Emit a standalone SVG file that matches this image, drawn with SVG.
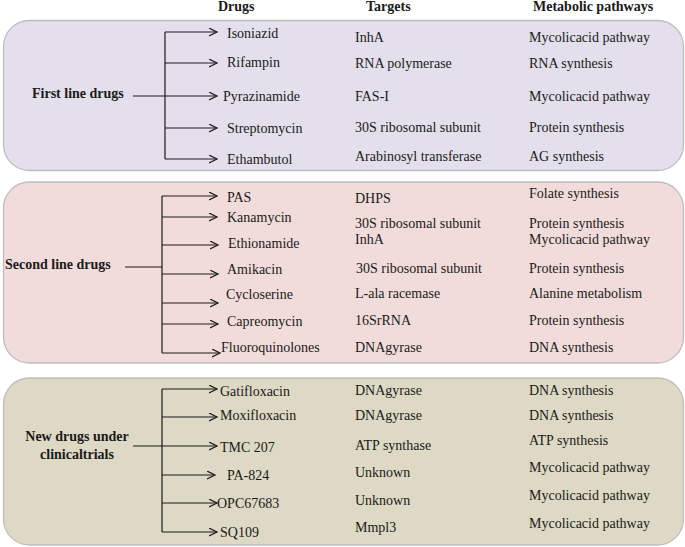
<svg xmlns="http://www.w3.org/2000/svg" width="685" height="547" viewBox="0 0 685 547">
<defs>
<marker id="arr" markerWidth="10" markerHeight="10" refX="8" refY="4" orient="auto" markerUnits="userSpaceOnUse">
<path d="M0,0 L8,4 L0,8" fill="none" stroke="#1a1a1a" stroke-width="1.2"/>
</marker>
<style>
text{font-family:"Liberation Serif","Times New Roman",serif;font-size:14px;fill:#1a1a1a}
.b{font-weight:bold}
.box{stroke:#bdbdbd;stroke-width:1.3}
.ln{stroke:#1a1a1a;stroke-width:1.2;fill:none}
.ar{stroke:#1a1a1a;stroke-width:1.2;fill:none;marker-end:url(#arr)}
</style>
</defs>
<rect width="685" height="547" fill="#ffffff"/>

<g id="headers">
<text class="b" x="218" y="11">Drugs</text>
<text class="b" x="366" y="11">Targets</text>
<text class="b" x="533" y="11">Metabolic pathways</text>
</g>

<g id="box-first">
<rect class="box" x="3.5" y="20.5" width="680" height="150" rx="26" fill="#e4dfec"/>
<text class="b" x="32" y="98">First line drugs</text>
<text x="227" y="38">Isoniazid</text>
<text x="227" y="67">Rifampin</text>
<text x="223" y="101">Pyrazinamide</text>
<text x="227" y="133">Streptomycin</text>
<text x="227" y="164">Ethambutol</text>
<text x="355" y="42">InhA</text>
<text x="355" y="68">RNA polymerase</text>
<text x="355" y="101">FAS-I</text>
<text x="355" y="132">30S ribosomal subunit</text>
<text x="355" y="161">Arabinosyl transferase</text>
<text x="529" y="42">Mycolicacid pathway</text>
<text x="529" y="68">RNA synthesis</text>
<text x="529" y="101">Mycolicacid pathway</text>
<text x="529" y="132">Protein synthesis</text>
<text x="529" y="161">AG synthesis</text>
</g>

<g id="box-second">
<rect class="box" x="3.5" y="182" width="680" height="181" rx="26" fill="#f2dcdb"/>
<text class="b" x="5" y="269">Second line drugs</text>
<text x="227" y="202">PAS</text>
<text x="227" y="222">Kanamycin</text>
<text x="228" y="248">Ethionamide</text>
<text x="227" y="274">Amikacin</text>
<text x="226" y="299">Cycloserine</text>
<text x="227" y="326">Capreomycin</text>
<text x="221" y="352">Fluoroquinolones</text>
<text x="355" y="203">DHPS</text>
<text x="355" y="228">30S ribosomal subunit</text>
<text x="355" y="244">InhA</text>
<text x="356" y="273">30S ribosomal subunit</text>
<text x="355" y="298">L-ala racemase</text>
<text x="355" y="325">16SrRNA</text>
<text x="355" y="352">DNAgyrase</text>
<text x="529" y="198">Folate synthesis</text>
<text x="529" y="228">Protein synthesis</text>
<text x="529" y="244">Mycolicacid pathway</text>
<text x="529" y="273">Protein synthesis</text>
<text x="529" y="298">Alanine metabolism</text>
<text x="529" y="325">Protein synthesis</text>
<text x="529" y="352">DNA synthesis</text>
</g>

<g id="box-new">
<rect class="box" x="3.5" y="378" width="680" height="167" rx="26" fill="#ddd9c4"/>
<text class="b" x="77" y="441" text-anchor="middle">New drugs under</text>
<text class="b" x="77" y="459" text-anchor="middle">clinicaltrials</text>
<text x="220" y="396">Gatifloxacin</text>
<text x="220" y="420">Moxifloxacin</text>
<text x="220" y="452">TMC 207</text>
<text x="227" y="480">PA-824</text>
<text x="217" y="508">OPC67683</text>
<text x="220" y="537">SQ109</text>
<text x="355" y="395">DNAgyrase</text>
<text x="355" y="420">DNAgyrase</text>
<text x="355" y="450">ATP synthase</text>
<text x="355" y="477">Unknown</text>
<text x="355" y="505">Unknown</text>
<text x="355" y="532">Mmpl3</text>
<text x="529" y="395">DNA synthesis</text>
<text x="529" y="420">DNA synthesis</text>
<text x="529" y="445">ATP synthesis</text>
<text x="529" y="472">Mycolicacid pathway</text>
<text x="529" y="500">Mycolicacid pathway</text>
<text x="529" y="528">Mycolicacid pathway</text>
</g>

<g id="connectors">
<line class="ln" x1="165" y1="32" x2="165" y2="159"/>
<line class="ar" x1="165" y1="32" x2="217" y2="32"/>
<line class="ar" x1="165" y1="63" x2="217" y2="63"/>
<line class="ar" x1="133" y1="96" x2="217" y2="96"/>
<line class="ar" x1="165" y1="128" x2="217" y2="128"/>
<line class="ar" x1="165" y1="159" x2="217" y2="159"/>

<line class="ln" x1="162" y1="196" x2="162" y2="353"/>
<line class="ln" x1="125" y1="267" x2="162" y2="267"/>
<line class="ar" x1="162" y1="196" x2="217" y2="196"/>
<line class="ar" x1="162" y1="217" x2="217" y2="217"/>
<line class="ar" x1="162" y1="245" x2="218" y2="245"/>
<line class="ar" x1="162" y1="274" x2="218" y2="274"/>
<line class="ar" x1="162" y1="303" x2="218" y2="303"/>
<line class="ar" x1="162" y1="324" x2="218" y2="324"/>
<line class="ar" x1="162" y1="353" x2="220" y2="353"/>

<line class="ln" x1="162" y1="389" x2="162" y2="532"/>
<line class="ar" x1="162" y1="389" x2="217" y2="389"/>
<line class="ar" x1="162" y1="417" x2="217" y2="417"/>
<line class="ar" x1="133" y1="446" x2="217" y2="446"/>
<line class="ar" x1="162" y1="475" x2="215" y2="475"/>
<line class="ar" x1="162" y1="503" x2="217" y2="503"/>
<line class="ar" x1="162" y1="532" x2="217" y2="532"/>
</g>
</svg>
